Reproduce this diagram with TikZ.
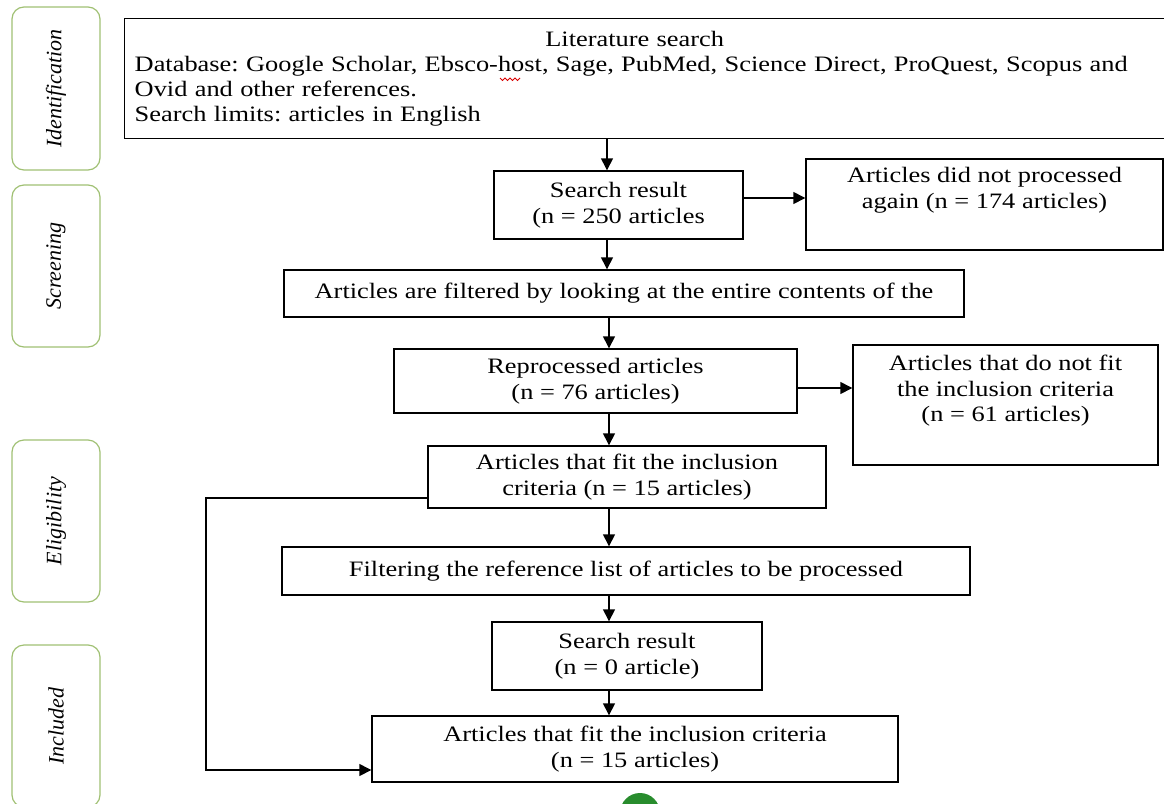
\documentclass[tikz,border=0pt]{standalone}
\usepackage{fontspec}
\setmainfont{Liberation Serif}[FakeStretch=1.2]
\newfontfamily\sidefont{Liberation Serif}
\usetikzlibrary{arrows.meta}
\definecolor{phasegreen}{RGB}{160,192,115}
\definecolor{dotgreen}{RGB}{40,140,45}
\frenchspacing
\begin{document}
\begin{tikzpicture}[x=1pt,y=-1pt,
  box/.style={draw, line width=1.4pt, inner sep=0pt, align=center,
    font=\fontsize{22}{25.5}\selectfont},
  arr/.style={line width=1.4pt, -{Triangle[width=12pt,length=12pt]}},
  phase/.style={draw=phasegreen, line width=1.2pt, rounded corners=12pt,
    rotate=90, minimum height=88pt, inner sep=0pt,
    font=\sidefont\itshape\fontsize{22}{26}\selectfont},
  squiggle/.style={draw=red!85!black, line width=0.9pt}
]
\useasboundingbox (0,0) rectangle (1164,803);
\clip (0,0) rectangle (1164,803);

% phase labels
\node[phase, minimum width=163pt] (ident) at (56,88.5) {Identification};
\node[phase, minimum width=162pt] (screen) at (56,266) {Screening};
\node[phase, minimum width=162pt] (elig) at (56,521) {Eligibility};
\node[phase, minimum width=162pt] (incl) at (56,726) {Included};

% boxes
\node[box, anchor=north west, minimum height=120pt, text width=1040pt,
  inner xsep=10pt, align=left, font=\fontsize{22}{24.7}\selectfont] (lit) at (124,18)
  {\makebox[1000pt]{Literature search}\\
   Database: Google Scholar, Ebsco-host, Sage, PubMed, Science Direct, ProQuest, Scopus and\\
   Ovid and other references.\\
   Search limits: articles in English};
\node[box, minimum width=249pt, minimum height=68pt] (sr) at (618.5,205)
  {Search result\\(n = 250 articles};
\node[box, minimum width=357pt, minimum height=91pt] (dnp) at (984.5,204.5)
  {Articles did not processed\\again (n = 174 articles)\\\strut};
\node[box, minimum width=680pt, minimum height=47pt] (filt) at (624,293.5)
  {Articles are filtered by looking at the entire contents of the};
\node[box, minimum width=403pt, minimum height=64pt] (rep) at (595.5,381)
  {Reprocessed articles\\(n = 76 articles)};
\node[box, minimum width=305pt, minimum height=120pt] (nofit) at (1005.5,405)
  {Articles that do not fit\\the inclusion criteria\\(n = 61 articles)\\\strut};
\node[box, minimum width=398pt, minimum height=62pt] (fit) at (627,477)
  {Articles that fit the inclusion\\criteria (n = 15 articles)};
\node[box, minimum width=688pt, minimum height=48pt] (filtref) at (626,571)
  {Filtering the reference list of articles to be processed};
\node[box, minimum width=270pt, minimum height=68pt] (sr2) at (627,656)
  {Search result\\(n = 0 article)};
\node[box, minimum width=526pt, minimum height=66pt] (final) at (635,749)
  {Articles that fit the inclusion criteria\\(n = 15 articles)};

% spell-check squiggle under "host"
\draw[squiggle] (500,78) -- (502.5,80.5) -- (505,78) -- (507.5,80.5) -- (510,78)
  -- (512.5,80.5) -- (515,78) -- (517.5,80.5) -- (520,78);

% connectors
\coordinate (ax1) at (607,0);
\coordinate (ax2) at (609,0);
\coordinate (lx) at (206,0);
\draw[arr] (ax1 |- lit.south) -- (ax1 |- sr.north);
\draw[arr] (ax1 |- sr.south) -- (ax1 |- filt.north);
\draw[arr] (ax2 |- filt.south) -- (ax2 |- rep.north);
\draw[arr] (ax2 |- rep.south) -- (ax2 |- fit.north);
\draw[arr] (ax2 |- fit.south) -- (ax2 |- filtref.north);
\draw[arr] (ax2 |- filtref.south) -- (ax2 |- sr2.north);
\draw[arr] (ax2 |- sr2.south) -- (ax2 |- final.north);
\draw[arr] ([yshift=7pt]sr.east) -- ([yshift=7pt]sr.east -| dnp.west);
\draw[arr] ([yshift=-7pt]rep.east) -- ([yshift=-7pt]rep.east -| nofit.west);
\draw[arr] ([yshift=-21pt]fit.west) -- ([yshift=-21pt]fit.west -| lx)
  -- ([yshift=-21pt]final.west -| lx) -- ([yshift=-21pt]final.west);

% green marker
\fill[dotgreen] (640,813) circle (20pt);
\end{tikzpicture}
\end{document}
